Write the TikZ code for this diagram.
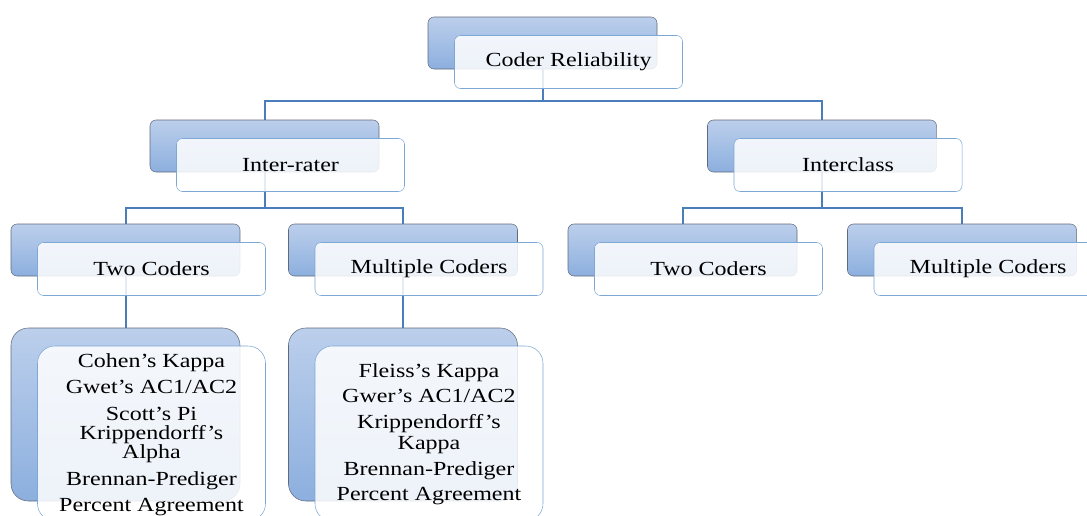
\documentclass[tikz,border=0pt]{standalone}
\usepackage{fontspec}
\setmainfont{Liberation Serif}[FakeStretch=1.2]
\usetikzlibrary{calc,positioning,backgrounds}
\definecolor{backtop}{RGB}{188,207,236}
\definecolor{backbot}{RGB}{140,175,222}
\definecolor{backline}{RGB}{96,106,124}
\definecolor{frontline}{RGB}{125,168,214}
\definecolor{linkblue}{RGB}{74,126,187}
\tikzset{>=latex}

\begin{document}
\begin{tikzpicture}[x=0.75pt,y=-0.75pt]
    \tikzset{
      back/.style={draw=backline, top color=backtop, bottom color=backbot, rounded corners=4.5pt,
        minimum width=171.75pt, minimum height=39pt, inner sep=0pt},
      front/.style={draw=frontline, fill=white, fill opacity=0.85, text opacity=1, rounded corners=4.5pt,
        minimum width=171pt, minimum height=39.75pt, inner sep=0pt, font=\fontsize{15}{18}\selectfont},
      backlist/.style={back, rounded corners=13pt, minimum height=129.75pt},
      frontlist/.style={front, rounded corners=13pt, minimum height=131.25pt},
      listentry/.style={font=\fontsize{15}{18}\selectfont, text height=10.5pt, text depth=3pt, inner sep=0pt},
      link/.style={draw=linkblue, line width=1.5pt},
    }

    \useasboundingbox (0,0) rectangle (1087,515);
    \clip (0,0) rectangle (1087,515);

    % Back boxes.
    \node [back] (crb)  at (542.5,43)  {};
    \node [back] (irb)  at (264.5,146) {};
    \node [back] (icb)  at (822,146)   {};
    \node [back] (tcb)  at (125.5,250) {};
    \node [back] (mcb)  at (403,250)   {};
    \node [back] (tc2b) at (682.5,250) {};
    \node [back] (mc2b) at (962,250)   {};
    \node [backlist] (tclb) at (125.5,414.5) {};
    \node [backlist] (mclb) at (403,414.5)   {};

    % Front boxes.
    \node [front] (cr)  at ($(crb.center)+(26,19)$)  {Coder Reliability};
    \node [front] (ir)  at ($(irb.center)+(26,19)$)  {Inter-rater};
    \node [front] (ic)  at ($(icb.center)+(26,19)$)  {Interclass};
    \node [front] (tc)  at ($(tcb.center)+(26,19)$)  {Two Coders};
    \node [front] (mc)  at ($(mcb.center)+(26,19)$)  {Multiple Coders};
    \node [front] (tc2) at ($(tc2b.center)+(26,19)$) {Two Coders};
    \node [front] (mc2) at ($(mc2b.center)+(26,19)$) {Multiple Coders};
    \node [frontlist] (tcl) at ($(tclb.center)+(26,19)$) {};
    \node [frontlist] (mcl) at ($(mclb.center)+(26,19)$) {};

    % Connectors.
    \begin{scope}[on background layer]
      \coordinate (crbus) at ($(crb.south)+(0,32)$);
      \coordinate (irbus) at ($(irb.south)+(0,36)$);
      \coordinate (icbus) at ($(icb.south)+(0,36)$);
      \draw [link] (crb.south) -- (crbus);
      \draw [link] (irb.north) |- (crbus) -| (icb.north);
      \draw [link] (irb.south) -- (irbus);
      \draw [link] (tcb.north) |- (irbus) -| (mcb.north);
      \draw [link] (icb.south) -- (icbus);
      \draw [link] (tc2b.north) |- (icbus) -| (mc2b.north);
      \draw [link] (tcb.south) -- (tclb.north);
      \draw [link] (mcb.south) -- (mclb.north);
    \end{scope}

    % Two coders list.
    \path (tcl.center |- 0,362) node [listentry] (tcl1) {Cohen’s Kappa};
    \path (tcl.center |- 0,388) node [listentry] (tcl2) {Gwet’s AC1/AC2};
    \path (tcl.center |- 0,415) node [listentry] (tcl3) {Scott’s Pi};
    \path (tcl.center |- 0,434) node [listentry] (tcl4) {Krippendorff’s};
    \path (tcl.center |- 0,453) node [listentry] (tcl5) {Alpha};
    \path (tcl.center |- 0,480) node [listentry] (tcl6) {Brennan-Prediger};
    \path (tcl.center |- 0,506) node [listentry] (tcl7) {Percent Agreement};

    % Multiple coders list.
    \path (mcl.center |- 0,372) node [listentry] (mcl1) {Fleiss’s Kappa};
    \path (mcl.center |- 0,397) node [listentry] (mcl2) {Gwer’s AC1/AC2};
    \path (mcl.center |- 0,423) node [listentry] (mcl3) {Krippendorff’s};
    \path (mcl.center |- 0,444) node [listentry] (mcl4) {Kappa};
    \path (mcl.center |- 0,470) node [listentry] (mcl5) {Brennan-Prediger};
    \path (mcl.center |- 0,495) node [listentry] (mcl6) {Percent Agreement};

\end{tikzpicture}
\end{document}
